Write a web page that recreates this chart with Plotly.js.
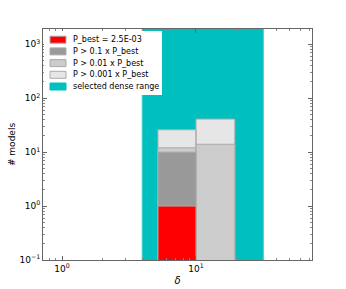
<!DOCTYPE html>
<html><head><meta charset="utf-8">
<script src="https://cdn.plot.ly/plotly-3.0.1.min.js"></script>
<style>html,body{margin:0;padding:0;background:#fff}#chart{width:346px;height:289px}</style>
</head><body><div id="chart"></div>
<script>
// ---- data ----
const binEdges = [5.2, 10, 19.5];
const seriesNames = ['P_best = 2.5E-03', 'P > 0.1 x P_best', 'P > 0.01 x P_best', 'P > 0.001 x P_best'];
const countsBest = [1, 0];
const counts01 = [10, 0];
const counts001 = [12, 14];
const counts0001 = [26, 41];
const denseRange = [3.97, 31.8];
const denseLabel = 'selected dense range';
const yTickVals = [0.1, 1, 10, 100, 1000];
const yTickText = ['10<sup>−1</sup>', '10<sup>0</sup>', '10<sup>1</sup>', '10<sup>2</sup>', '10<sup>3</sup>'];
const xTickVals = [1, 10];
const xTickText = ['10<sup>0</sup>', '10<sup>1</sup>'];
const xTitle = '<i>δ</i>';
const yTitle = '# models';

// ---- styles ----
const colors = ['#ff0000', '#999999', '#cccccc', '#e6e6e6'];
const denseColor = '#00bfbf';
const edgeColor = '#aaaaaa';
const FONT = 'DejaVu Sans, Bitstream Vera Sans, sans-serif';
const FLOOR = 1e-3, CEIL = 1e5;

function histPath(edges, counts) {
  const xs = [], ys = [];
  for (let i = 0; i < counts.length; i++) {
    if (counts[i] > 0) {
      xs.push(edges[i], edges[i], edges[i + 1], edges[i + 1], edges[i], null);
      ys.push(FLOOR, counts[i], counts[i], FLOOR, FLOOR, null);
    }
  }
  return {xs, ys};
}
function histTrace(counts, color, name) {
  const p = histPath(binEdges, counts);
  return {type: 'scatter', mode: 'lines', x: p.xs, y: p.ys, fill: 'toself', fillcolor: color,
          line: {color: edgeColor, width: 1}, name: name, showlegend: false, hoverinfo: 'skip', connectgaps: false};
}

const traces = [
  {type: 'scatter', mode: 'lines', x: [denseRange[0], denseRange[0], denseRange[1], denseRange[1], denseRange[0]],
   y: [FLOOR, CEIL, CEIL, FLOOR, FLOOR], fill: 'toself', fillcolor: denseColor,
   line: {color: '#33cccc', width: 1}, name: denseLabel, showlegend: false, hoverinfo: 'skip'},
  histTrace(counts0001, colors[3], seriesNames[3]),
  histTrace(counts001, colors[2], seriesNames[2]),
  histTrace(counts01, colors[1], seriesNames[1]),
  histTrace(countsBest, colors[0], seriesNames[0])
];

// ---- layout geometry ----
const W = 346, H = 289;
const M = {l: 43, r: 34, t: 29, b: 29};
const PW = W - M.l - M.r, PH = H - M.t - M.b;
const px = x => (x - M.l) / PW;
const py = y => (M.t + PH - y) / PH;

// manual legend (matplotlib-like compact legend)
const legendLabels = seriesNames.concat([denseLabel]);
const legendColors = colors.concat([denseColor]);
const shapes = [{type: 'rect', xref: 'paper', yref: 'paper', x0: px(44), x1: px(162), y0: py(95), y1: py(31),
                 fillcolor: '#ffffff', line: {width: 0}, layer: 'above'}];
const annotations = [];
legendLabels.forEach((lab, i) => {
  const cy = 39.7 + i * 11.7;
  shapes.push({type: 'rect', xref: 'paper', yref: 'paper', x0: px(50), x1: px(66), y0: py(cy + 3.5), y1: py(cy - 3.5),
               fillcolor: legendColors[i], line: {color: i < 4 ? edgeColor : denseColor, width: 1}, layer: 'above'});
  annotations.push({xref: 'paper', yref: 'paper', x: px(71), y: py(cy), xanchor: 'left', yanchor: 'middle',
                    text: lab, showarrow: false, font: {family: FONT, size: 8, color: '#000'}});
});

const axisCommon = {
  type: 'log', showgrid: false, zeroline: false, showline: true, mirror: 'allticks',
  linecolor: '#666666', linewidth: 1, ticks: 'inside', ticklen: 4, tickwidth: 1, tickcolor: '#666666',
  tickmode: 'array', tickfont: {family: FONT, size: 9, color: '#000'}
};
function minorVals(lo, hi) {
  const v = [];
  for (let k = lo; k <= hi; k++) for (let m = 2; m <= 9; m++) v.push(m * Math.pow(10, k));
  return v;
}

const layout = {
  width: W, height: H, margin: M, autosize: false,
  paper_bgcolor: '#ffffff', plot_bgcolor: '#ffffff',
  showlegend: false,
  font: {family: FONT, size: 9, color: '#000'},
  xaxis: Object.assign({}, axisCommon, {
    range: [-0.142, 1.866], tickvals: xTickVals, ticktext: xTickText,
    minor: {ticks: 'inside', ticklen: 2, tickcolor: '#888888', tickmode: 'array', tickvals: minorVals(-1, 1), showgrid: false},
    title: {text: xTitle, font: {family: FONT, size: 10, color: '#000'}, standoff: 4}
  }),
  yaxis: Object.assign({}, axisCommon, {
    range: [-1, 3.283], tickvals: yTickVals, ticktext: yTickText,
    minor: {ticks: 'inside', ticklen: 2, tickcolor: '#888888', tickmode: 'array', tickvals: minorVals(-1, 3), showgrid: false},
    title: {text: yTitle, font: {family: FONT, size: 9, color: '#000'}, standoff: 2}
  }),
  shapes: shapes,
  annotations: annotations
};

Plotly.newPlot('chart', traces, layout, {staticPlot: true, displayModeBar: false});
</script>
</body></html>
